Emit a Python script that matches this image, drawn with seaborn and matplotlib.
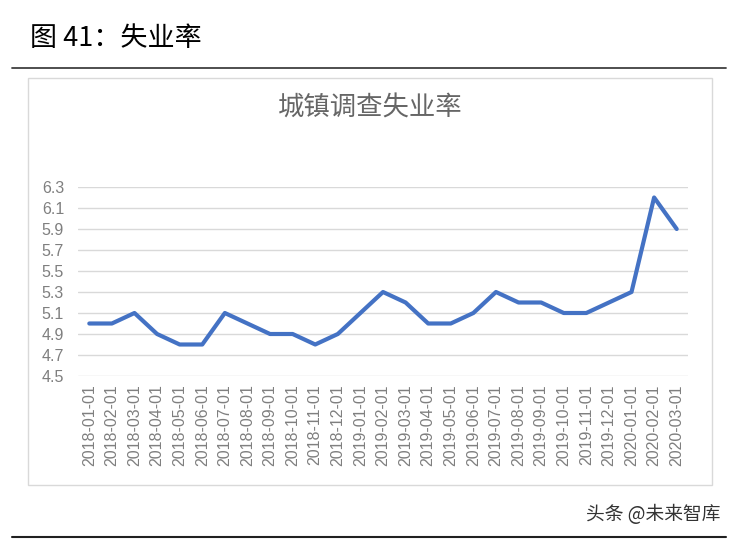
import seaborn as sns
import matplotlib.pyplot as plt
import pandas as pd
from matplotlib.patches import Rectangle
from matplotlib.lines import Line2D

months = [
    "2018-01-01", "2018-02-01", "2018-03-01", "2018-04-01", "2018-05-01", "2018-06-01",
    "2018-07-01", "2018-08-01", "2018-09-01", "2018-10-01", "2018-11-01", "2018-12-01",
    "2019-01-01", "2019-02-01", "2019-03-01", "2019-04-01", "2019-05-01", "2019-06-01",
    "2019-07-01", "2019-08-01", "2019-09-01", "2019-10-01", "2019-11-01", "2019-12-01",
    "2020-01-01", "2020-02-01", "2020-03-01",
]
rates = [
    5.0, 5.0, 5.1, 4.9, 4.8, 4.8,
    5.1, 5.0, 4.9, 4.9, 4.8, 4.9,
    5.1, 5.3, 5.2, 5.0, 5.0, 5.1,
    5.3, 5.2, 5.2, 5.1, 5.1, 5.2,
    5.3, 6.2, 5.9,
]
y_ticks = [4.5, 4.7, 4.9, 5.1, 5.3, 5.5, 5.7, 5.9, 6.1, 6.3]

sns.set_theme(style="white")
plt.rcParams['font.family'] = ['Liberation Sans', 'Noto Sans CJK SC', 'DejaVu Sans']
cjk = ['Noto Sans CJK SC', 'DejaVu Sans']

data = pd.DataFrame({"month": months, "rate": rates})

fig = plt.figure(figsize=(7.34, 5.39), dpi=100)
W, H = 734, 539

# header and rules
fig.text(30 / W, 1 - 38 / H, "图 41：失业率", family=cjk, fontsize=19.5,
         color="black", va="center", ha="left")
fig.add_artist(Line2D([12 / W, 726 / W], [1 - 68 / H, 1 - 68 / H], color="#404040", lw=1.3))
fig.add_artist(Line2D([12 / W, 726 / W], [1 - 537 / H, 1 - 537 / H], color="#202020", lw=1.5))
fig.add_artist(Rectangle((28 / W, 1 - 485 / H), (712 - 28) / W, (485 - 78) / H,
                         fill=False, edgecolor="#D9D9D9", lw=1.0))
fig.text(720 / W, 1 - 515 / H, "头条 @未来智库", family=cjk, fontsize=13.5,
         color="#333333", va="center", ha="right")

ax = fig.add_axes([78 / W, 1 - 376 / H, (688 - 78) / W, (376 - 187) / H])
sns.lineplot(data=data, x="month", y="rate", sort=False, color="#4472C4",
             linewidth=3.0, ax=ax)

ax.set_xlim(-0.5, len(months) - 0.5)
ax.set_ylim(4.5, 6.3)
ax.set_yticks(y_ticks)
ax.set_yticklabels([f"{v:.1f}" for v in y_ticks])
ax.yaxis.grid(True, color="#D9D9D9", lw=1.0)
ax.set_axisbelow(True)
for s in ax.spines.values():
    s.set_visible(False)
ax.tick_params(axis="both", length=0, colors="#7F7F7F", labelsize=11.5)
ax.tick_params(axis="y", pad=10)
ax.tick_params(axis="x", pad=6)
plt.setp(ax.get_xticklabels(), rotation=90)
ax.set_xlabel("")
ax.set_ylabel("")

fig.text(370 / W, 1 - 108 / H, "城镇调查失业率", family=cjk, fontsize=19,
         color="#666666", va="center", ha="center")

plt.savefig("out.png", dpi=100)
